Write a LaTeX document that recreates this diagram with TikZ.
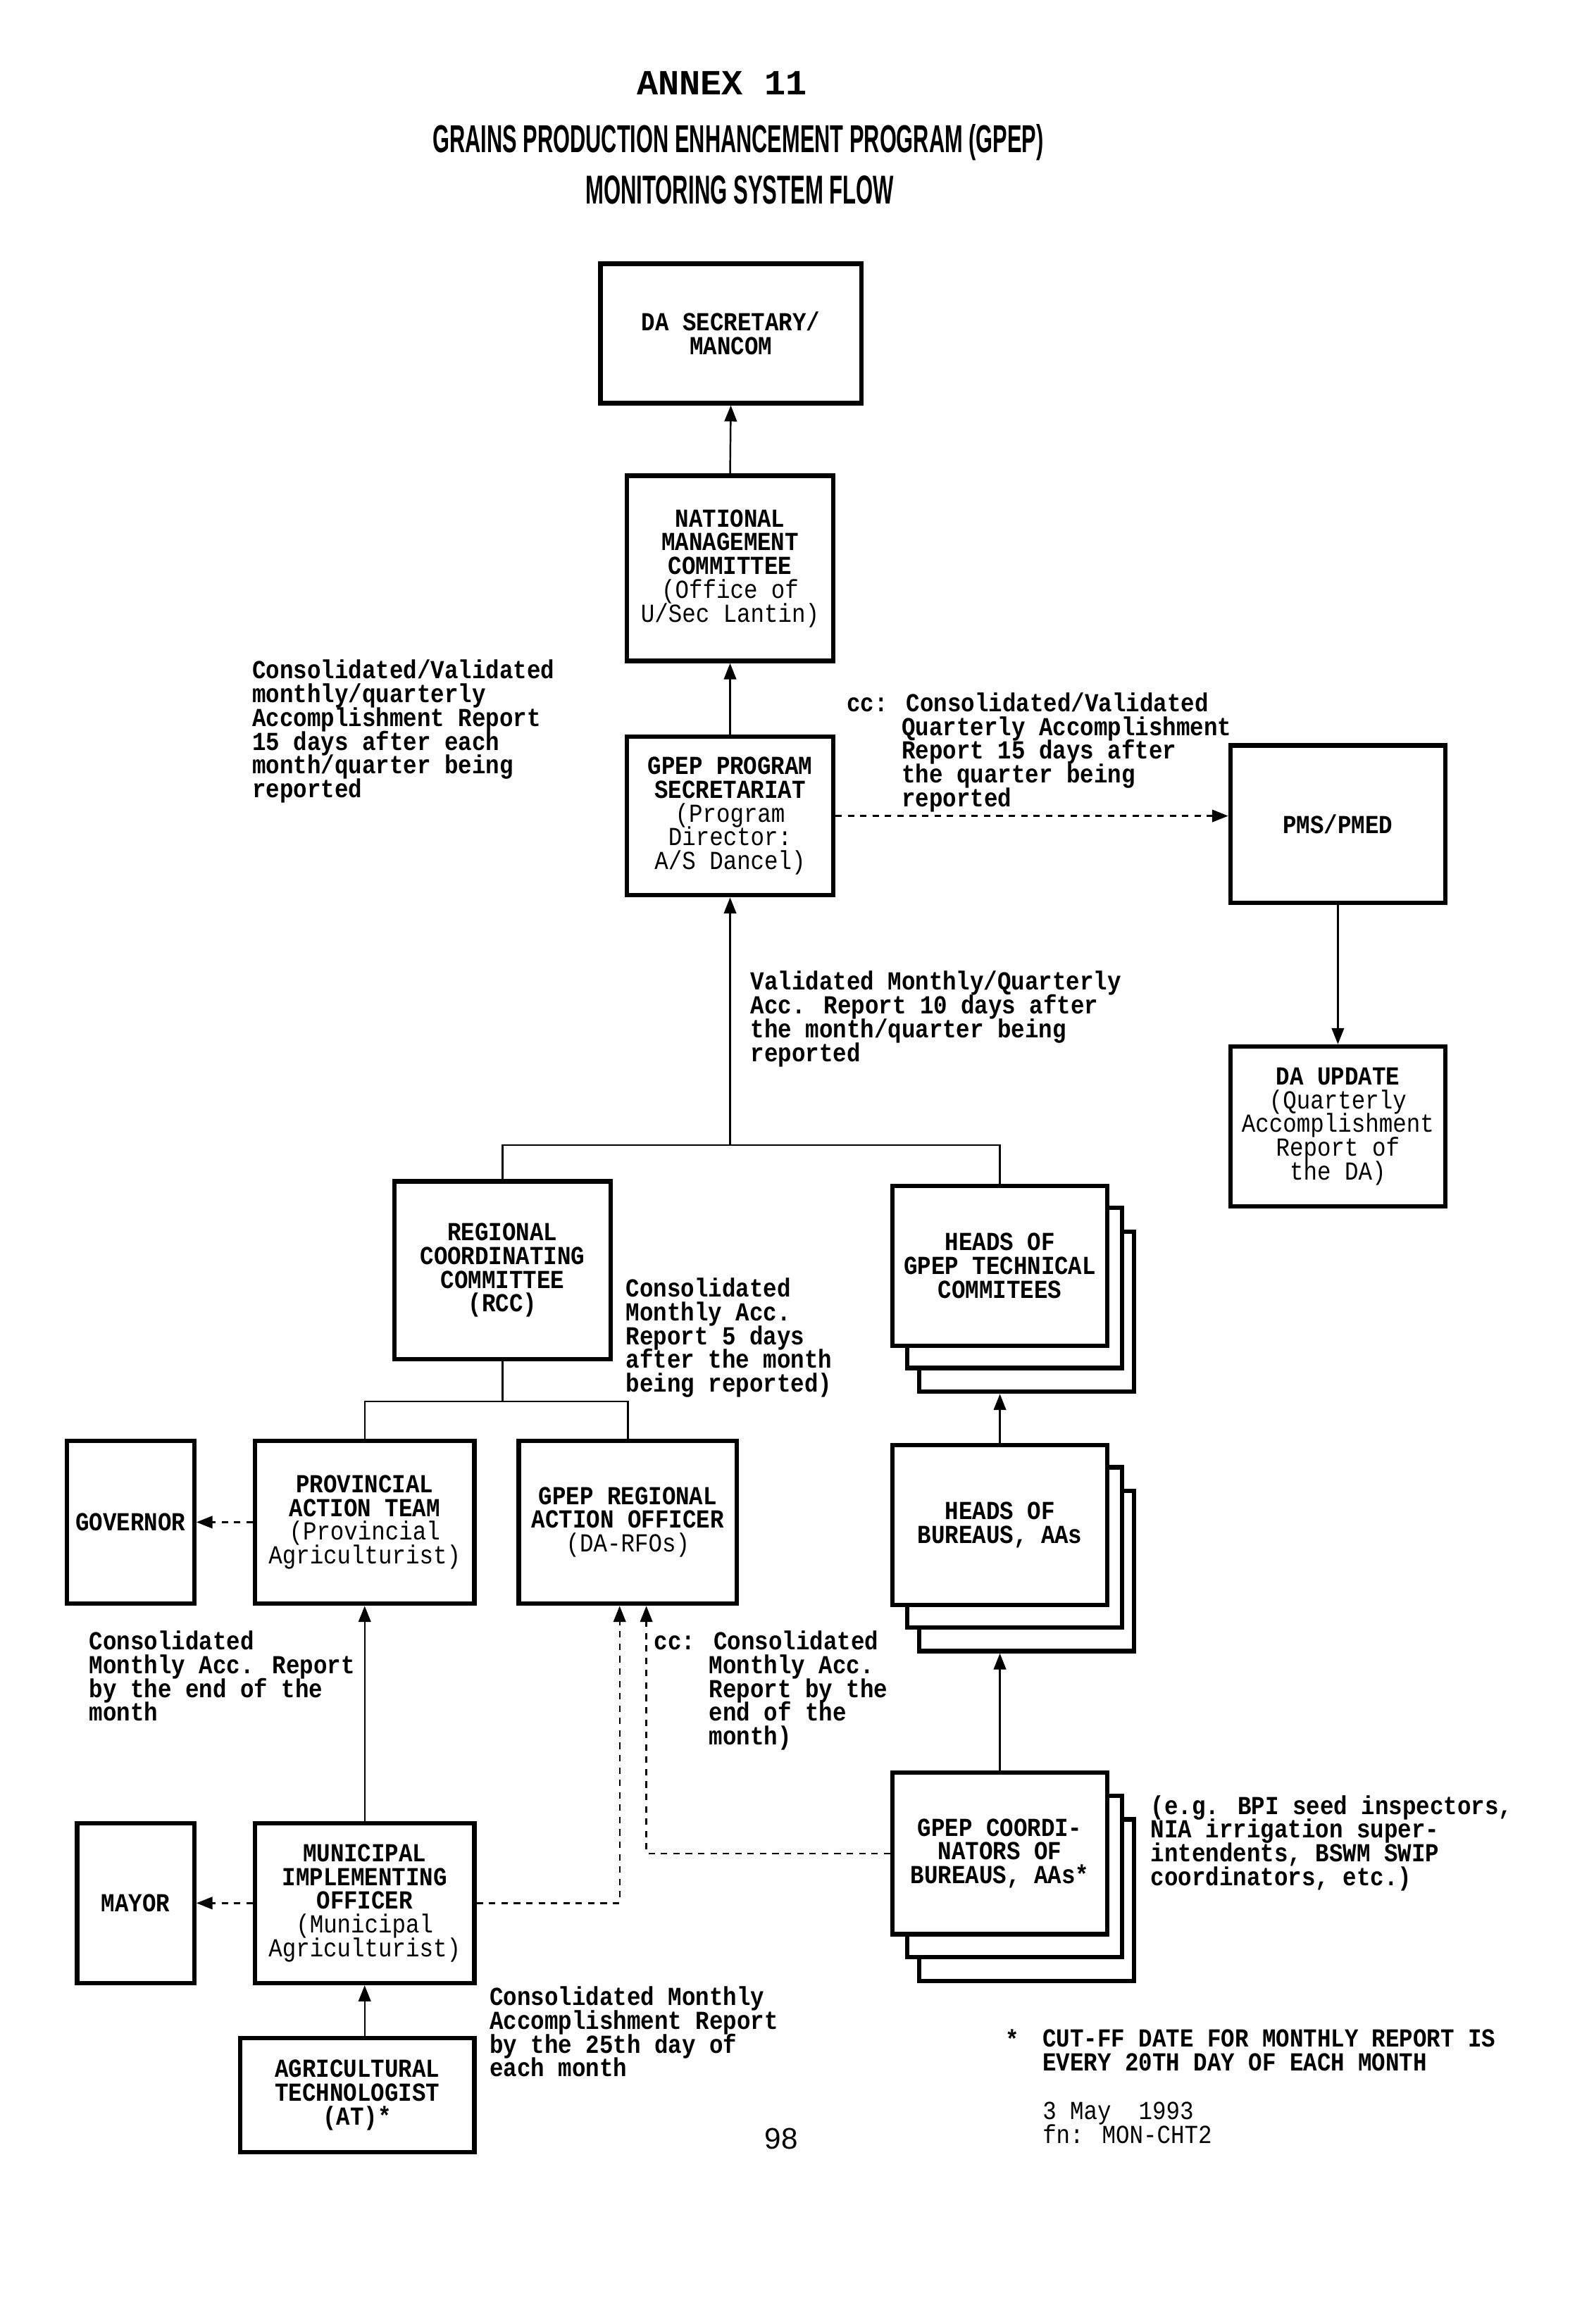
\documentclass[tikz,border=0pt]{standalone}
\usepackage{fontspec}
\usepackage{graphicx}
\usetikzlibrary{arrows.meta,calc}
\newfontfamily\dmfont[FakeStretch=0.88]{Liberation Mono}
\newfontfamily\ttlfont{Liberation Sans}
\newfontfamily\annexfont{Liberation Mono}
\newfontfamily\pgnumfont{Liberation Sans}
\newcommand\dmsize{\dmfont\fontsize{10.5pt}{9.6pt}\selectfont\lineskiplimit=-20pt\relax}
\begin{document}
\begin{tikzpicture}[x=0.02104cm,y=-0.02104cm,
  box/.style={draw,line width=1.8pt,fill=white,align=center,inner sep=1pt,font=\dmsize\bfseries},
  sz/.style 2 args={minimum width=#1*0.02104cm,minimum height=#2*0.02104cm},
  ln/.style={line width=0.7pt},
  tipped/.style={-{Triangle[length=6.5pt,width=5pt]}},
  arr/.style={ln,tipped},
  dsh/.style={ln,dash pattern=on 2.6pt off 2.4pt},
  ann/.style={anchor=north west,align=left,inner sep=0pt,font=\dmsize\bfseries}]
\useasboundingbox (0,0) rectangle (1067,1568);

% titles
\node (annex) at (487,56) {\annexfont\bfseries\fontsize{14.3pt}{15pt}\selectfont ANNEX 11};
\node (ttl1) at (498,96) {\resizebox{8.67cm}{0.40cm}{\ttlfont\bfseries GRAINS PRODUCTION ENHANCEMENT PROGRAM (GPEP)}};
\node (ttl2) at (499,128) {\resizebox{4.38cm}{0.40cm}{\ttlfont\bfseries MONITORING SYSTEM FLOW}};

% boxes
\node[box,sz={176}{94}] (da) at (493,225) {DA SECRETARY/\\MANCOM};
\node[box,sz={139}{125}] (nmc) at (492.5,383.5) {NATIONAL\\MANAGEMENT\\COMMITTEE\\\mdseries(Office of\\\mdseries U/Sec Lantin)};
\node[box,sz={139}{107}] (gps) at (492.5,550.5) {GPEP PROGRAM\\SECRETARIAT\\\mdseries(Program\\\mdseries Director:\\\mdseries A/S Dancel)};
\node[box,sz={145}{106}] (pms) at (902.5,556) {PMS/PMED};
\node[box,sz={145}{108}] (dau) at (902.5,760) {DA UPDATE\\\mdseries(Quarterly\\\mdseries Accomplishment\\\mdseries Report of\\\mdseries the DA)};
\node[box,sz={146}{120}] (rcc) at (339,857) {REGIONAL\\COORDINATING\\COMMITTEE\\(RCC)};

\node[box,sz={145}{108}] (tcC) at (692.5,885) {};
\node[box,sz={145}{108}] (tcB) at (684.5,869) {};
\node[box,sz={145}{108}] (tc) at (674.5,854) {HEADS OF\\GPEP TECHNICAL\\COMMITEES};

\node[box,sz={86}{110}] (gov) at (88,1027) {GOVERNOR};
\node[box,sz={148}{110}] (pat) at (246,1027) {PROVINCIAL\\ACTION TEAM\\\mdseries(Provincial\\\mdseries Agriculturist)};
\node[box,sz={147}{110}] (rao) at (423.5,1027) {GPEP REGIONAL\\ACTION OFFICER\\\mdseries(DA-RFOs)};

\node[box,sz={145}{108}] (hbC) at (692.5,1060) {};
\node[box,sz={145}{108}] (hbB) at (684.5,1044) {};
\node[box,sz={145}{108}] (hb) at (674.5,1029) {HEADS OF\\BUREAUS, AAs};

\node[box,sz={145}{109}] (gcC) at (692.5,1282) {};
\node[box,sz={145}{109}] (gcB) at (684.5,1266) {};
\node[box,sz={145}{109}] (gc) at (674.5,1250.5) {GPEP COORDI-\\NATORS OF\\BUREAUS, AAs*};

\node[box,sz={79}{108}] (mayor) at (91.5,1284) {MAYOR};
\node[box,sz={148}{108}] (mio) at (246,1284) {MUNICIPAL\\IMPLEMENTING\\OFFICER\\\mdseries(Municipal\\\mdseries Agriculturist)};
\node[box,sz={158}{77}] (at) at (241,1413.5) {AGRICULTURAL\\TECHNOLOGIST\\(AT)*};

% connectors
\draw[arr] (nmc.north) -- (da.south);
\draw[arr] (gps.north) -- (nmc.south);
\draw[dsh,tipped] (gps.east) -- (gps.east -| pms.west);
\draw[arr] (pms.south) -- (dau.north);
\coordinate (j1) at ($(gps.south)+(0,167)$);
\draw[ln] (rcc.north) |- (j1) -| (tc.north);
\draw[arr] (j1) -- (gps.south);
\coordinate (j2) at ($(rcc.south)+(0,27)$);
\draw[ln] (rcc.south) -- (j2);
\draw[ln] (pat.north) |- (j2) -| (rao.north);
\draw[dsh,tipped] (pat.west) -- (gov.east);
\draw[arr] (mio.north) -- (pat.south);
\draw[arr] (mio.south |- at.north) -- (mio.south);
\draw[dsh,tipped] (mio.west) -- (mayor.east);
\draw[dsh,tipped] (mio.east) -| ($(rao.south)+(-5.5,0)$);
\draw[dsh,tipped] (gc.west) -| ($(rao.south)+(12.5,0)$);
\draw[arr] (gc.north) -- (gc.north |- hbC.south);
\draw[arr] (hb.north) -- (hb.north |- tcC.south);

% annotations
\node[ann] (a1) at (170,445) {Consolidated/Validated\\monthly/quarterly\\Accomplishment Report\\15 days after each\\month/quarter being\\reported};
\node[ann] (a2) at (571,467) {cc: Consolidated/Validated\\\hphantom{cc:~}Quarterly Accomplishment\\\hphantom{cc:~}Report 15 days after\\\hphantom{cc:~}the quarter being\\\hphantom{cc:~}reported};
\node[ann] (a3) at (506,655) {Validated Monthly/Quarterly\\Acc. Report 10 days after\\the month/quarter being\\reported};
\node[ann] (a4) at (422,862) {Consolidated\\Monthly Acc.\\Report 5 days\\after the month\\being reported)};
\node[ann] (a5) at (60,1100) {Consolidated\\Monthly Acc. Report\\by the end of the\\month};
\node[ann] (a6) at (441,1100) {cc: Consolidated\\\hphantom{cc:~}Monthly Acc.\\\hphantom{cc:~}Report by the\\\hphantom{cc:~}end of the\\\hphantom{cc:~}month)};
\node[ann] (a7) at (776,1211) {(e.g. BPI seed inspectors,\\NIA irrigation super-\\intendents, BSWM SWIP\\coordinators, etc.)};
\node[ann] (a8) at (330,1340) {Consolidated Monthly\\Accomplishment Report\\by the 25th day of\\each month};

% footnote
\node[ann] (fs) at (678,1369) {*};
\node[ann] (fn1) at (703,1369) {CUT-FF DATE FOR MONTHLY REPORT IS\\EVERY 20TH DAY OF EACH MONTH};
\node[ann,font=\dmsize] (fn2) at (703,1418) {3 May~~1993\\fn: MON-CHT2};

\node (pg) at (527,1443) {\pgnumfont\fontsize{12pt}{14pt}\selectfont 98};
\end{tikzpicture}
\end{document}
